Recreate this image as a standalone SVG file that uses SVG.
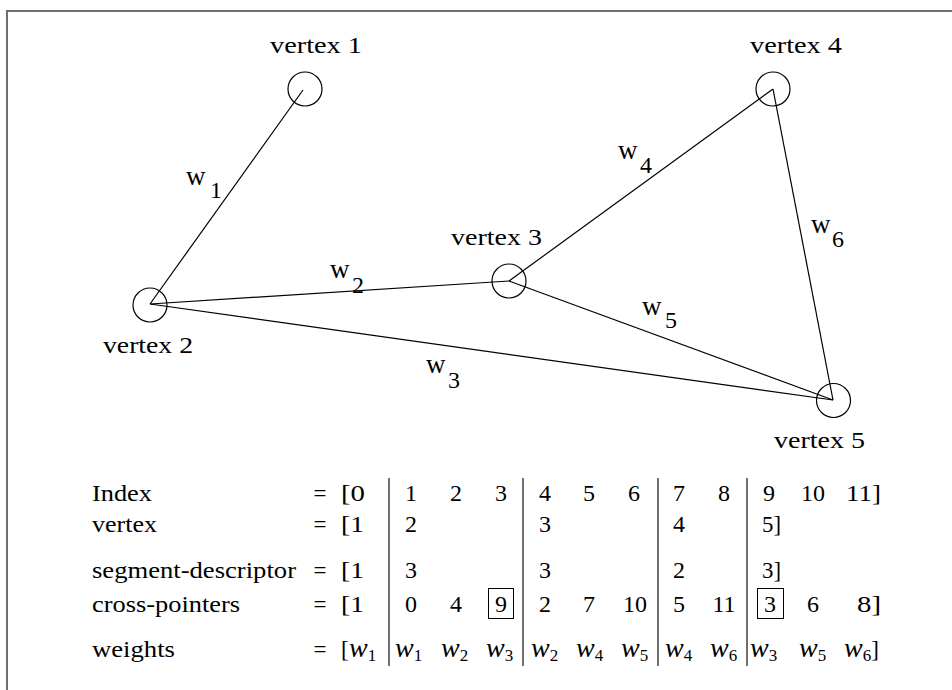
<svg xmlns="http://www.w3.org/2000/svg" width="952" height="690" viewBox="0 0 952 690">
<style>
text{fill:#000}
.lab{font-size:23px}
.t{font-size:23px}
.c{font-size:24px;text-anchor:middle}
.eq{font-size:23px;text-anchor:middle}
.wi{font-size:28px;font-style:italic}
.sub{font-size:17px;font-style:normal}
.el{font-size:27px}
.ed{font-size:24px}
.edge{stroke:#000;stroke-width:1.2;fill:none}
.node{stroke:#000;stroke-width:1.2;fill:none}
.sep{stroke:#333;stroke-width:1.4}
.box{stroke:#000;stroke-width:1;fill:none}
</style>
<g font-family="'Liberation Serif', 'Times New Roman', serif">
<path d="M7,690 V11 H952" fill="none" stroke="#6e6e6e" stroke-width="2"/>
<g id="connectors">
<line class="edge" x1="303" y1="90" x2="150" y2="304"/>
<line class="edge" x1="150" y1="304" x2="509" y2="281"/>
<line class="edge" x1="150" y1="304" x2="833" y2="400"/>
<line class="edge" x1="509" y1="281" x2="773" y2="89"/>
<line class="edge" x1="509" y1="281" x2="833" y2="400"/>
<line class="edge" x1="773" y1="89" x2="833" y2="400"/>
<text class="el"><tspan x="186" y="185">w</tspan><tspan class="ed" x="210" y="198">1</tspan></text>
<text class="el"><tspan x="330" y="278">w</tspan><tspan class="ed" x="352" y="293">2</tspan></text>
<text class="el"><tspan x="426" y="373">w</tspan><tspan class="ed" x="448" y="388">3</tspan></text>
<text class="el"><tspan x="618" y="159">w</tspan><tspan class="ed" x="640" y="173">4</tspan></text>
<text class="el"><tspan x="642" y="315">w</tspan><tspan class="ed" x="665" y="328">5</tspan></text>
<text class="el"><tspan x="811" y="233">w</tspan><tspan class="ed" x="832" y="247">6</tspan></text>
</g>
<g id="vertex1"><circle class="node" cx="305" cy="89" r="17"/><text class="lab" x="270" y="53" textLength="92" lengthAdjust="spacingAndGlyphs">vertex 1</text></g>
<g id="vertex2"><circle class="node" cx="150" cy="305" r="17"/><text class="lab" x="103" y="353" textLength="90" lengthAdjust="spacingAndGlyphs">vertex 2</text></g>
<g id="vertex3"><circle class="node" cx="509" cy="281" r="17"/><text class="lab" x="451" y="245" textLength="91" lengthAdjust="spacingAndGlyphs">vertex 3</text></g>
<g id="vertex4"><circle class="node" cx="773" cy="89" r="17"/><text class="lab" x="750" y="53" textLength="92" lengthAdjust="spacingAndGlyphs">vertex 4</text></g>
<g id="vertex5"><circle class="node" cx="833.5" cy="400.5" r="17"/><text class="lab" x="774" y="448" textLength="91" lengthAdjust="spacingAndGlyphs">vertex 5</text></g>
<g id="table">
<line class="sep" x1="389" y1="478" x2="389" y2="666"/>
<line class="sep" x1="523" y1="478" x2="523" y2="666"/>
<line class="sep" x1="658" y1="478" x2="658" y2="666"/>
<line class="sep" x1="747" y1="478" x2="747" y2="666"/>
<rect class="box" x="488.5" y="588.5" width="25" height="30"/>
<rect class="box" x="757.5" y="588.5" width="26" height="30"/>
<text class="t" x="92" y="501" textLength="60" lengthAdjust="spacingAndGlyphs">Index</text>
<text class="t" x="92" y="532" textLength="65" lengthAdjust="spacingAndGlyphs">vertex</text>
<text class="t" x="92" y="578" textLength="204" lengthAdjust="spacingAndGlyphs">segment-descriptor</text>
<text class="t" x="92" y="612" textLength="148" lengthAdjust="spacingAndGlyphs">cross-pointers</text>
<text class="t" x="92" y="657" textLength="83" lengthAdjust="spacingAndGlyphs">weights</text>
<text class="eq" x="320" y="501">=</text>
<text class="eq" x="320" y="532">=</text>
<text class="eq" x="320" y="578">=</text>
<text class="eq" x="320" y="612">=</text>
<text class="eq" x="320" y="657">=</text>
<text class="t" x="341" y="501" textLength="24" lengthAdjust="spacingAndGlyphs">[0</text>
<text class="t" x="341" y="532" textLength="23" lengthAdjust="spacingAndGlyphs">[1</text>
<text class="t" x="341" y="578" textLength="23" lengthAdjust="spacingAndGlyphs">[1</text>
<text class="t" x="341" y="612" textLength="23" lengthAdjust="spacingAndGlyphs">[1</text>
<text class="t" x="341" y="657">[</text>
<text class="c" x="411" y="501">1</text>
<text class="c" x="456" y="501">2</text>
<text class="c" x="501" y="501">3</text>
<text class="c" x="545" y="501">4</text>
<text class="c" x="589" y="501">5</text>
<text class="c" x="634" y="501">6</text>
<text class="c" x="679" y="501">7</text>
<text class="c" x="724" y="501">8</text>
<text class="c" x="769" y="501">9</text>
<text class="c" x="813" y="501">10</text>
<text class="t" x="846" y="501" textLength="35" lengthAdjust="spacingAndGlyphs">11]</text>
<text class="c" x="411" y="532">2</text>
<text class="c" x="545" y="532">3</text>
<text class="c" x="679" y="532">4</text>
<text class="t" x="762" y="532" textLength="19" lengthAdjust="spacingAndGlyphs">5]</text>
<text class="c" x="411" y="578">3</text>
<text class="c" x="545" y="578">3</text>
<text class="c" x="679" y="578">2</text>
<text class="t" x="762" y="578" textLength="19" lengthAdjust="spacingAndGlyphs">3]</text>
<text class="c" x="411" y="612">0</text>
<text class="c" x="456" y="612">4</text>
<text class="c" x="501" y="612">9</text>
<text class="c" x="545" y="612">2</text>
<text class="c" x="589" y="612">7</text>
<text class="c" x="635" y="612">10</text>
<text class="c" x="679" y="612">5</text>
<text class="c" x="724" y="612">11</text>
<text class="c" x="770" y="612">3</text>
<text class="c" x="813" y="612">6</text>
<text class="t" x="857" y="612" textLength="24" lengthAdjust="spacingAndGlyphs">8]</text>
<text class="wi" x="349" y="657">w<tspan class="sub" dy="4">1</tspan></text>
<text class="wi" x="395" y="657">w<tspan class="sub" dy="4">1</tspan></text>
<text class="wi" x="441" y="657">w<tspan class="sub" dy="4">2</tspan></text>
<text class="wi" x="486" y="657">w<tspan class="sub" dy="4">3</tspan></text>
<text class="wi" x="531" y="657">w<tspan class="sub" dy="4">2</tspan></text>
<text class="wi" x="576" y="657">w<tspan class="sub" dy="4">4</tspan></text>
<text class="wi" x="621" y="657">w<tspan class="sub" dy="4">5</tspan></text>
<text class="wi" x="665" y="657">w<tspan class="sub" dy="4">4</tspan></text>
<text class="wi" x="710" y="657">w<tspan class="sub" dy="4">6</tspan></text>
<text class="wi" x="750" y="657">w<tspan class="sub" dy="4">3</tspan></text>
<text class="wi" x="799" y="657">w<tspan class="sub" dy="4">5</tspan></text>
<text class="wi" x="844" y="657">w<tspan class="sub" dy="4">6</tspan><tspan class="sub" style="font-size:23px" dy="-4">]</tspan></text>
</g>
</g>
</svg>
